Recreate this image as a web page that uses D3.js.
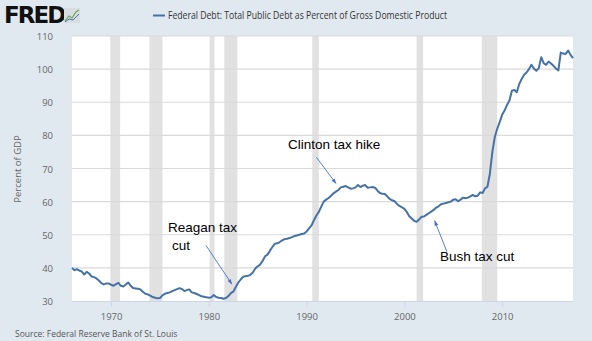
<!DOCTYPE html>
<html><head><meta charset="utf-8">
<script src="https://cdn.jsdelivr.net/npm/d3@7/dist/d3.min.js"></script>
<style>html,body{margin:0;padding:0;background:#e1e9f0;}svg{display:block;}</style>
</head><body>
<svg id="c" width="592" height="341"></svg>
<script>
const startYear = 1966;
const debtPct = [
 40.0,39.3,39.6,39.2, 38.9,38.0,38.8,38.3, 37.4,37.2,36.8,36.2, 35.4,35.0,35.3,35.3,
 34.9,34.6,35.1,35.5, 34.6,34.4,35.0,35.6, 34.6,33.9,33.8,33.7, 33.5,32.8,32.2,32.0,
 31.6,31.2,31.0,30.8, 30.9,31.7,32.2,32.4, 32.6,33.0,33.3,33.6, 33.9,33.6,33.0,33.3,
 33.5,32.6,32.4,32.1, 31.8,31.4,31.3,31.1, 31.0,31.1,31.8,31.2, 31.0,30.9,30.7,30.9,
 31.5,32.4,32.8,34.2, 35.5,36.5,37.3,37.5, 37.6,37.9,38.6,39.8, 40.5,41.0,42.1,43.5,
 44.0,45.2,46.3,47.3, 47.4,47.8,48.3,48.7, 48.8,49.0,49.3,49.6, 49.8,50.0,50.2,50.4,
 51.0,51.9,52.8,54.4, 55.8,56.9,58.5,60.0, 60.6,61.1,61.8,62.5, 63.0,63.5,64.3,64.5,
 64.7,64.3,63.9,64.0, 64.3,65.0,64.4,64.8, 65.0,64.2,64.3,64.4, 64.2,63.3,62.6,62.4,
 62.3,61.6,60.8,60.4, 60.1,59.3,58.7,58.3, 57.8,56.9,55.6,54.9, 54.2,53.9,54.6,55.4,
 55.5,56.0,56.5,57.0, 57.5,58.2,58.6,59.2, 59.4,59.6,59.8,60.0, 60.6,60.7,60.1,60.6,
 61.2,61.0,61.2,61.6, 62.0,61.6,61.8,62.8, 62.6,64.0,64.5,68.5, 75.0,79.5,82.0,84.0,
 86.2,87.5,89.2,90.5, 93.5,93.7,93.0,95.5, 97.0,98.3,99.0,100.0, 101.3,100.2,99.5,100.3,
 103.6,101.8,101.3,102.3, 101.7,101.0,100.2,99.6, 105.0,104.7,104.6,105.6, 104.3,103.3
];
const recessionStarts = [1969.92, 1973.92, 1980.08, 1981.58, 1990.58, 2001.25, 2007.92];
const recessionEnds   = [1970.92, 1975.25, 1980.58, 1982.92, 1991.25, 2001.92, 2009.5];
const yTicks = [30,40,50,60,70,80,90,100,110];
const xTicks = [1970,1980,1990,2000,2010];
const annotationLabels = [["Reagan tax","cut"],["Clinton tax hike"],["Bush tax cut"]];
const annotationTips = [[1982.35,35.1],[1993.0,65.5],[2003.1,54.2]];
const annotationTails = [[1979.7,46.8],[1991.0,73.4],[2004.35,44.9]];

const svg = d3.select("#c");
const L=72,R=573,T=36,B=301;
const x = d3.scaleLinear().domain([1966, 2017.25]).range([L,R]);
const y = d3.scaleLinear().domain([30,110]).range([B,T]);

svg.append("rect").attr("x",L).attr("y",T).attr("width",R-L).attr("height",B-T).attr("fill","#fff");
svg.append("g").selectAll("rect").data(recessionStarts).join("rect")
  .attr("x",d=>x(d)).attr("y",T).attr("width",(d,i)=>x(recessionEnds[i])-x(d)).attr("height",B-T)
  .attr("fill","#e1e1e1");
svg.append("g").selectAll("line").data(yTicks.filter(d=>d>30)).join("line")
  .attr("x1",L).attr("x2",R).attr("y1",d=>y(d)).attr("y2",d=>y(d))
  .attr("stroke","#dadada").attr("stroke-width",1.2);
svg.append("g").selectAll("text").data(yTicks).join("text")
  .attr("x",53).attr("y",d=>y(d)+4).attr("text-anchor","end")
  .attr("font-family","Open Sans").attr("font-size",9.5).attr("fill","#666").text(d=>d);
const xa = svg.append("g").attr("transform",`translate(0,${B})`)
  .call(d3.axisBottom(x).tickValues(xTicks).tickFormat(d3.format("d")).tickSize(6).tickPadding(6));
xa.select(".domain").attr("stroke","#ccd6eb").attr("stroke-width",1.2).attr("d",`M${L},0.5H${R}`);
xa.selectAll(".tick line").attr("stroke","#ccd6eb");
xa.selectAll(".tick text").attr("font-family","Open Sans").attr("font-size",9.5).attr("fill","#666");

const pts = debtPct.map((v,i)=>[startYear+i/4, v]);
svg.append("path").datum(pts)
  .attr("d", d3.line().x(d=>x(d[0])).y(d=>y(d[1])))
  .attr("fill","none").attr("stroke","#4572a7").attr("stroke-width",2).attr("stroke-linejoin","round");

svg.append("text").attr("transform","translate(21,169) rotate(-90)").attr("text-anchor","middle")
  .attr("font-family","Open Sans").attr("font-size",9.5).attr("fill","#666").text("Percent of GDP");

svg.append("line").attr("x1",153).attr("x2",165).attr("y1",15.5).attr("y2",15.5).attr("stroke","#4572a7").attr("stroke-width",2);
svg.append("text").attr("x",168).attr("y",19).attr("font-family","Open Sans").attr("font-size",10)
  .attr("fill","#333").attr("textLength",279).attr("lengthAdjust","spacingAndGlyphs")
  .text("Federal Debt: Total Public Debt as Percent of Gross Domestic Product");

svg.append("text").attr("x",4).attr("y",23).attr("font-family","DejaVu Sans").attr("font-weight","bold")
  .attr("font-size",23).attr("letter-spacing",-2).attr("fill","#111").text("FRED");
const ic = svg.append("g").attr("transform","translate(64,8)");
ic.append("rect").attr("width",16).attr("height",15).attr("fill","#d8dde2");
ic.append("polyline").attr("points","1,13 5,8 8,10 12,4 15,2").attr("fill","none").attr("stroke","#6aa84f").attr("stroke-width",1.2);
ic.append("polyline").attr("points","1,14 5,11 9,12 15,6").attr("fill","none").attr("stroke","#4572a7").attr("stroke-width",1);

svg.append("text").attr("x",15).attr("y",337).attr("font-family","Open Sans").attr("font-size",8.5)
  .attr("fill","#555").text("Source: Federal Reserve Bank of St. Louis");

const defs = svg.append("defs");
defs.append("marker").attr("id","ah").attr("viewBox","0 0 10 10").attr("refX",9).attr("refY",5)
  .attr("markerWidth",7).attr("markerHeight",6).attr("orient","auto")
  .append("path").attr("d","M0,1.5L10,5L0,8.5Z").attr("fill","#4472c4");
annotationTips.forEach((p,i)=>{
  const t = annotationTails[i];
  svg.append("line").attr("x1",x(t[0])).attr("y1",y(t[1]))
    .attr("x2",x(p[0])).attr("y2",y(p[1]))
    .attr("stroke","#4472c4").attr("stroke-width",0.9).attr("marker-end","url(#ah)");
});
const labelPos = [[168,232],[288,149],[440,261]];
annotationLabels.forEach((lines,i)=>{
  lines.forEach((t,j)=>{
    svg.append("text").attr("x",labelPos[i][0]+(j?4:0)).attr("y",labelPos[i][1]+j*18)
      .attr("font-family","Liberation Sans").attr("font-size",13.5).attr("fill","#000").text(t);
  });
});
</script>
</body></html>
